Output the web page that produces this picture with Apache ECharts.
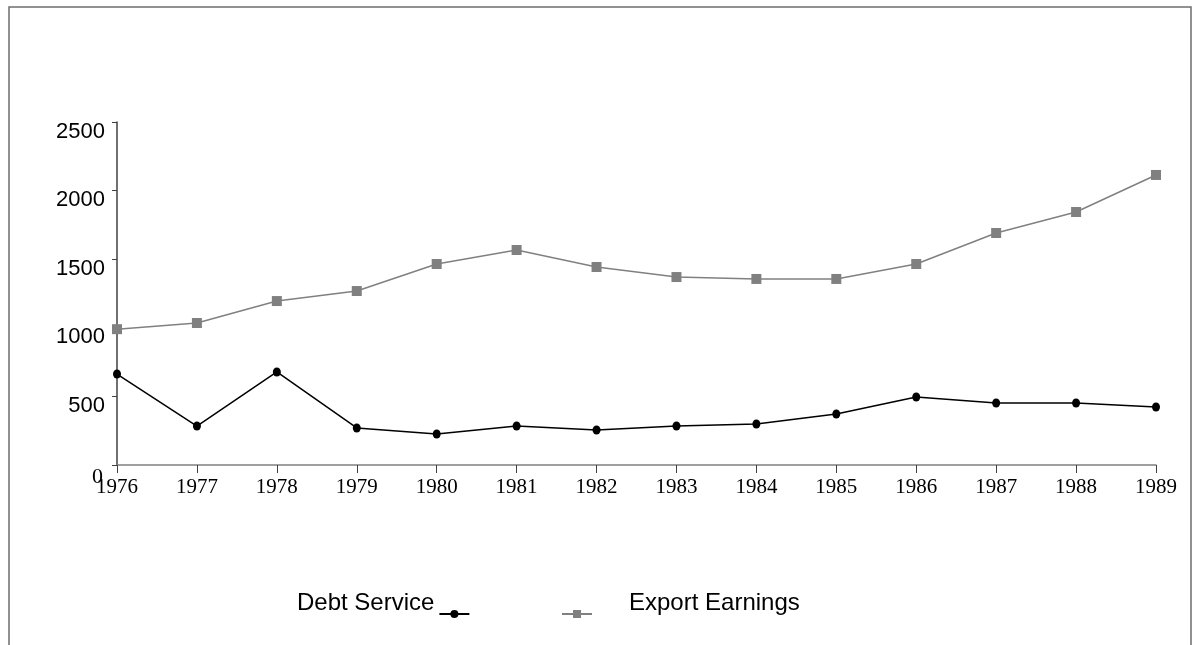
<!DOCTYPE html>
<html>
<head>
<meta charset="utf-8">
<script src="https://cdn.jsdelivr.net/npm/echarts@6/dist/echarts.min.js"></script>
<style>
  html, body { margin: 0; padding: 0; background: #fff; }
  #chart { width: 1192px; height: 645px; }
</style>
</head>
<body>
<div id="chart"></div>
<script>
// Years on the category axis
const years = ['1976', '1977', '1978', '1979', '1980', '1981', '1982',
               '1983', '1984', '1985', '1986', '1987', '1988', '1989'];

// Annual debt service payments
const debtService = [663, 284, 678, 270, 226, 284, 255, 284, 299, 372, 496, 452, 452, 423];

// Annual export earnings
const exportEarnings = [990, 1035, 1195, 1268, 1465, 1567, 1443, 1370, 1356, 1356, 1465, 1691, 1844, 2114];

// Value-axis ticks
const yTicks = [0, 500, 1000, 1500, 2000, 2500];

const chart = echarts.init(document.getElementById('chart'));

const sansFont = '"Liberation Sans", Arial, sans-serif';
const serifFont = '"Liberation Serif", "Times New Roman", serif';

chart.setOption({
  backgroundColor: '#ffffff',
  animation: false,
  grid: { left: 117, right: 36, top: 122, bottom: 180, containLabel: false },
  xAxis: {
    type: 'category',
    data: years,
    boundaryGap: false,
    axisLine: { lineStyle: { color: '#808080', width: 1.5 } },
    axisTick: { alignWithLabel: true, length: 8, lineStyle: { color: '#404040' } },
    axisLabel: { margin: 12, fontFamily: serifFont, fontSize: 21, color: '#000' },
    splitLine: { show: false }
  },
  yAxis: {
    type: 'value',
    min: yTicks[0],
    max: yTicks[yTicks.length - 1],
    interval: yTicks[1] - yTicks[0],
    axisLine: { show: true, lineStyle: { color: '#404040', width: 1.5 } },
    axisTick: { show: true, length: 5, lineStyle: { color: '#404040' } },
    splitLine: { show: false },
    axisLabel: {
      margin: 12,
      color: '#000',
      formatter: v => (v === 0 ? '{z|0}' : '{n|' + v + '}'),
      rich: {
        n: { fontFamily: sansFont, fontSize: 22, color: '#000', padding: [19, 0, 0, 0] },
        z: { fontFamily: serifFont, fontSize: 22, color: '#000', padding: [24, 2, 0, 0] }
      }
    }
  },
  legend: [
    {
      data: ['Debt Service'],
      left: 297,
      top: 591,
      padding: 0,
      align: 'right',
      itemWidth: 30,
      itemHeight: 10,
      formatter: '{t|{name}}',
      textStyle: {
        rich: { t: { fontFamily: sansFont, fontSize: 24, color: '#000', padding: [0, 0, 22, 0] } }
      }
    },
    {
      data: ['Export Earnings'],
      left: 561,
      top: 591,
      padding: 0,
      align: 'left',
      itemWidth: 30,
      itemHeight: 10,
      formatter: '{t|{name}}',
      textStyle: {
        rich: { t: { fontFamily: sansFont, fontSize: 24, color: '#000', padding: [0, 0, 22, 32] } }
      }
    }
  ],
  series: [
    {
      name: 'Debt Service',
      type: 'line',
      data: debtService,
      symbol: 'circle',
      symbolSize: [8, 9],
      itemStyle: { color: '#000000' },
      lineStyle: { color: '#000000', width: 1.5 }
    },
    {
      name: 'Export Earnings',
      type: 'line',
      data: exportEarnings,
      symbol: 'rect',
      symbolSize: 10,
      itemStyle: { color: '#808080' },
      lineStyle: { color: '#808080', width: 1.5 }
    }
  ],
  graphic: [
    {
      type: 'rect',
      silent: true,
      shape: { x: 9, y: 7, width: 1182, height: 660 },
      style: { fill: 'none', stroke: '#6e6e6e', lineWidth: 1.5 }
    }
  ]
});
</script>
</body>
</html>
